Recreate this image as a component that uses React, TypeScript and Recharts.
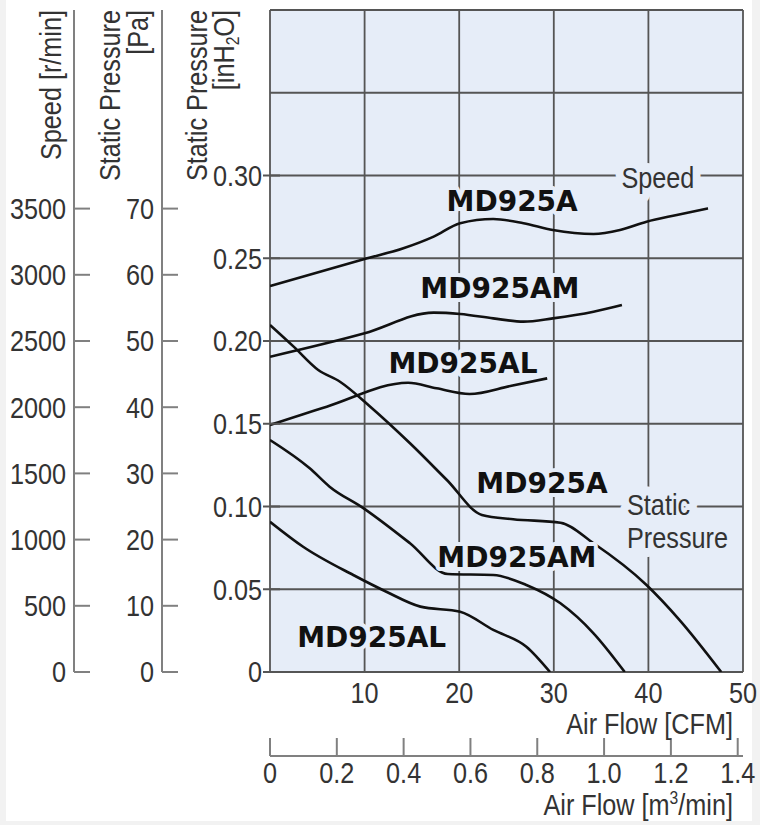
import React from "react";
import {
  LineChart,
  Line,
  XAxis,
  YAxis,
  CartesianGrid,
  ReferenceDot,
} from "recharts";

// axes
const cfmTicks = [10, 20, 30, 40, 50];
const m3Ticks = [0, 0.2, 0.4, 0.6, 0.8, 1.0, 1.2, 1.4];
const inh2oTicks = [0, 0.05, 0.1, 0.15, 0.2, 0.25, 0.3];
const paTicks = [0, 10, 20, 30, 40, 50, 60, 70];
const rpmTicks = [0, 500, 1000, 1500, 2000, 2500, 3000, 3500];
const gridX = [0, 10, 20, 30, 40, 50];
const gridY = [0, 0.05, 0.1, 0.15, 0.2, 0.25, 0.3, 0.35, 0.4];

// speed curves [CFM, r/min]
const speedA = [
  { x: 0, y: 2915 }, { x: 10, y: 3119 }, { x: 14.1, y: 3200 },
  { x: 17.3, y: 3288 }, { x: 20.1, y: 3389 }, { x: 23.6, y: 3421 },
  { x: 26.8, y: 3389 }, { x: 29.9, y: 3338 }, { x: 34.2, y: 3308 },
  { x: 37, y: 3338 }, { x: 39.8, y: 3401 }, { x: 43, y: 3452 },
  { x: 46.3, y: 3502 },
];
const speedAM = [
  { x: 0, y: 2381 }, { x: 10, y: 2558 }, { x: 17.3, y: 2714 },
  { x: 20.1, y: 2704 }, { x: 23.6, y: 2671 }, { x: 26.8, y: 2646 },
  { x: 29.9, y: 2671 }, { x: 34.2, y: 2721 }, { x: 37.2, y: 2772 },
];
const speedAL = [
  { x: 0, y: 1866 }, { x: 6, y: 2004 }, { x: 14.6, y: 2185 },
  { x: 17.6, y: 2143 }, { x: 21.1, y: 2100 }, { x: 25.4, y: 2160 },
  { x: 29.3, y: 2218 },
];

// static pressure curves [CFM, inH2O]
const pressA = [
  { x: 0, y: 0.2097 }, { x: 2.5, y: 0.1966 }, { x: 5.1, y: 0.1825 },
  { x: 7.4, y: 0.1754 }, { x: 10.6, y: 0.1603 }, { x: 14.8, y: 0.1382 },
  { x: 18.7, y: 0.116 }, { x: 22.4, y: 0.0949 }, { x: 25.7, y: 0.0923 },
  { x: 30.7, y: 0.0902 }, { x: 34.2, y: 0.0778 }, { x: 39.8, y: 0.0526 },
  { x: 43.3, y: 0.0314 }, { x: 47.7, y: 0 },
];
const pressAM = [
  { x: 0, y: 0.1402 }, { x: 4.2, y: 0.1231 }, { x: 6.3, y: 0.112 },
  { x: 9.9, y: 0.0989 }, { x: 14.8, y: 0.0778 }, { x: 18.8, y: 0.0592 },
  { x: 23.6, y: 0.0586 }, { x: 27.1, y: 0.0526 }, { x: 30.7, y: 0.0415 },
  { x: 34.2, y: 0.0234 }, { x: 37.5, y: 0 },
];
const pressAL = [
  { x: 0, y: 0.0908 }, { x: 3.5, y: 0.0757 }, { x: 8.8, y: 0.0586 },
  { x: 12.3, y: 0.0485 }, { x: 15.9, y: 0.0395 }, { x: 20.1, y: 0.0364 },
  { x: 23.6, y: 0.0254 }, { x: 27.1, y: 0.0153 }, { x: 29.6, y: 0 },
];

// curve labels [CFM, inH2O] at baseline centre
const modelLabels = [
  { x: 25.6, y: 0.2785, text: "MD925A" },
  { x: 24.3, y: 0.226, text: "MD925AM" },
  { x: 20.4, y: 0.1809, text: "MD925AL" },
  { x: 28.75, y: 0.1082, text: "MD925A" },
  { x: 26.1, y: 0.0636, text: "MD925AM" },
  { x: 10.75, y: 0.0153, text: "MD925AL" },
];

// m3/min scale rows (second x axis)
const m3Rows = m3Ticks.map((v) => ({ m3: v }));

const BG = "#e6edf8";
const GRID = "#555";
const AXIS = "#808080";
const TXT = "#333";
const SANS = "'Liberation Sans', Arial, sans-serif";
const BOLD = "'DejaVu Sans', sans-serif";
const SX = 0.87; // condensed look

// narrow text: Liberation Sans squeezed horizontally
const NText = ({ x, y, rotate, anchor, children, ...rest }: any) => (
  <text
    transform={`translate(${x},${y})${rotate ? " rotate(-90)" : ""} scale(${SX},1)`}
    textAnchor={anchor || "start"}
    fontSize={29}
    fontFamily={SANS}
    fill={TXT}
    {...rest}
  >
    {children}
  </text>
);

const LeftTick = ({ x, y, payload, fmt, from, to, color }: any) => (
  <g>
    <line x1={x + from} x2={x + to} y1={y} y2={y} stroke={color} strokeWidth={2} />
    <NText x={x - 8} y={y + 10.3} anchor="end">
      {fmt(payload.value)}
    </NText>
  </g>
);

const CfmTick = ({ x, y, payload }: any) => (
  <NText x={x} y={y + 31} anchor="middle">
    {payload.value}
  </NText>
);

const M3Tick = ({ x, y, payload }: any) => (
  <g>
    <line x1={x} x2={x} y1={y} y2={y - 18} stroke={AXIS} strokeWidth={2} />
    <NText x={x} y={y + 27} anchor="middle">
      {payload.value === 0 ? "0" : Number(payload.value).toFixed(1)}
    </NText>
  </g>
);

const modelShape = (text: string) => (p: any) => (
  <text
    x={p.cx}
    y={p.cy}
    textAnchor="middle"
    fontSize={28}
    fontWeight="bold"
    fontFamily={BOLD}
    fill="#111"
    stroke={BG}
    strokeWidth={8}
    strokeLinejoin="round"
    paintOrder="stroke"
  >
    {text}
  </text>
);

const speedShape = (p: any) => (
  <NText
    x={p.cx}
    y={p.cy}
    anchor="middle"
    stroke={BG}
    strokeWidth={18}
    strokeLinejoin="round"
    paintOrder="stroke"
  >
    Speed
  </NText>
);

const pressureShape = (p: any) => (
  <NText
    x={p.cx}
    y={p.cy}
    stroke={BG}
    strokeWidth={18}
    strokeLinejoin="round"
    paintOrder="stroke"
  >
    <tspan x={0}>Static</tspan>
    <tspan x={0} dy={33}>Pressure</tspan>
  </NText>
);

const curve = (data: any[], yAxisId: string, key: string) => (
  <Line
    key={key}
    data={data}
    dataKey="y"
    xAxisId="cfm"
    yAxisId={yAxisId}
    type="monotone"
    stroke="#111"
    strokeWidth={2.6}
    dot={false}
    isAnimationActive={false}
  />
);

const App = () => {
  return (
    <div style={{ position: "absolute", left: 0, top: 0, width: 760, height: 825, background: "#f2f2f2" }}>
      <div style={{ position: "absolute", left: 6, top: 0, width: 746, height: 821, background: "#fff" }} />
      <div style={{ position: "absolute", left: 0, top: 0 }}>
        <LineChart width={760} height={825} data={m3Rows} margin={{ top: 10, right: 17, bottom: 0, left: 0 }}>
          <CartesianGrid
            xAxisId="cfm"
            yAxisId="inh2o"
            fill={BG}
            fillOpacity={1}
            stroke={GRID}
            strokeWidth={1.8}
            horizontalValues={gridY}
            verticalValues={gridX}
          />
          <XAxis
            xAxisId="cfm"
            type="number"
            dataKey="x"
            domain={[0, 50]}
            allowDataOverflow
            ticks={cfmTicks}
            height={84}
            axisLine={false}
            tickLine={false}
            tickSize={0}
            tickMargin={0}
            tick={<CfmTick />}
          />
          <XAxis
            xAxisId="m3"
            type="number"
            dataKey="m3"
            domain={[0, 50 * 0.0283168]}
            allowDataOverflow
            ticks={m3Ticks}
            interval={0}
            height={69}
            axisLine={{ stroke: AXIS, strokeWidth: 2 }}
            tickLine={false}
            tickSize={0}
            tickMargin={0}
            tick={<M3Tick />}
          />
          <YAxis
            yAxisId="inh2o"
            type="number"
            domain={[0, 0.4]}
            allowDataOverflow
            ticks={inh2oTicks}
            width={108}
            axisLine={false}
            tickLine={false}
            tickSize={0}
            tickMargin={0}
            tick={<LeftTick fmt={(v: number) => (v === 0 ? "0" : v.toFixed(2))} from={-7} to={10} color={GRID} />}
          />
          <YAxis
            yAxisId="pa"
            type="number"
            domain={[0, 100]}
            allowDataOverflow
            ticks={paTicks}
            width={88}
            axisLine={{ stroke: AXIS, strokeWidth: 2 }}
            tickLine={false}
            tickSize={0}
            tickMargin={0}
            tick={<LeftTick fmt={(v: number) => String(v)} from={0} to={16} color={AXIS} />}
          />
          <YAxis
            yAxisId="rpm"
            type="number"
            domain={[0, 5000]}
            allowDataOverflow
            ticks={rpmTicks}
            width={74}
            axisLine={{ stroke: AXIS, strokeWidth: 2 }}
            tickLine={false}
            tickSize={0}
            tickMargin={0}
            tick={<LeftTick fmt={(v: number) => String(v)} from={0} to={16} color={AXIS} />}
          />
          {modelLabels.map((l, i) => (
            <ReferenceDot
              key={"l" + i}
              xAxisId="cfm"
              yAxisId="inh2o"
              x={l.x}
              y={l.y}
              r={1}
              ifOverflow="visible"
              shape={modelShape(l.text)}
            />
          ))}
          <ReferenceDot xAxisId="cfm" yAxisId="inh2o" x={41} y={0.2924} r={1} ifOverflow="visible" shape={speedShape} />
          <ReferenceDot xAxisId="cfm" yAxisId="inh2o" x={37.74} y={0.0949} r={1} ifOverflow="visible" shape={pressureShape} />
          {curve(speedA, "rpm", "sA")}
          {curve(speedAM, "rpm", "sAM")}
          {curve(speedAL, "rpm", "sAL")}
          {curve(pressA, "inh2o", "pA")}
          {curve(pressAM, "inh2o", "pAM")}
          {curve(pressAL, "inh2o", "pAL")}
        </LineChart>
      </div>
      <svg width={760} height={825} style={{ position: "absolute", left: 0, top: 0, pointerEvents: "none" }}>
        <NText x={61} y={10} rotate anchor="end">Speed [r/min]</NText>
        <NText x={120} y={10} rotate anchor="end">Static Pressure</NText>
        <NText x={148} y={10} rotate anchor="end">[Pa]</NText>
        <NText x={207} y={10} rotate anchor="end">Static Pressure</NText>
        <NText x={234} y={10} rotate anchor="end">
          [inH<tspan fontSize={18} dy={5}>2</tspan>
          <tspan dy={-5}>O]</tspan>
        </NText>
        <NText x={733} y={734} anchor="end">Air Flow [CFM]</NText>
        <NText x={733} y={815} anchor="end">
          Air Flow [m<tspan fontSize={18} dy={-11}>3</tspan>
          <tspan dy={11}>/min]</tspan>
        </NText>
      </svg>
    </div>
  );
};

export default App;
